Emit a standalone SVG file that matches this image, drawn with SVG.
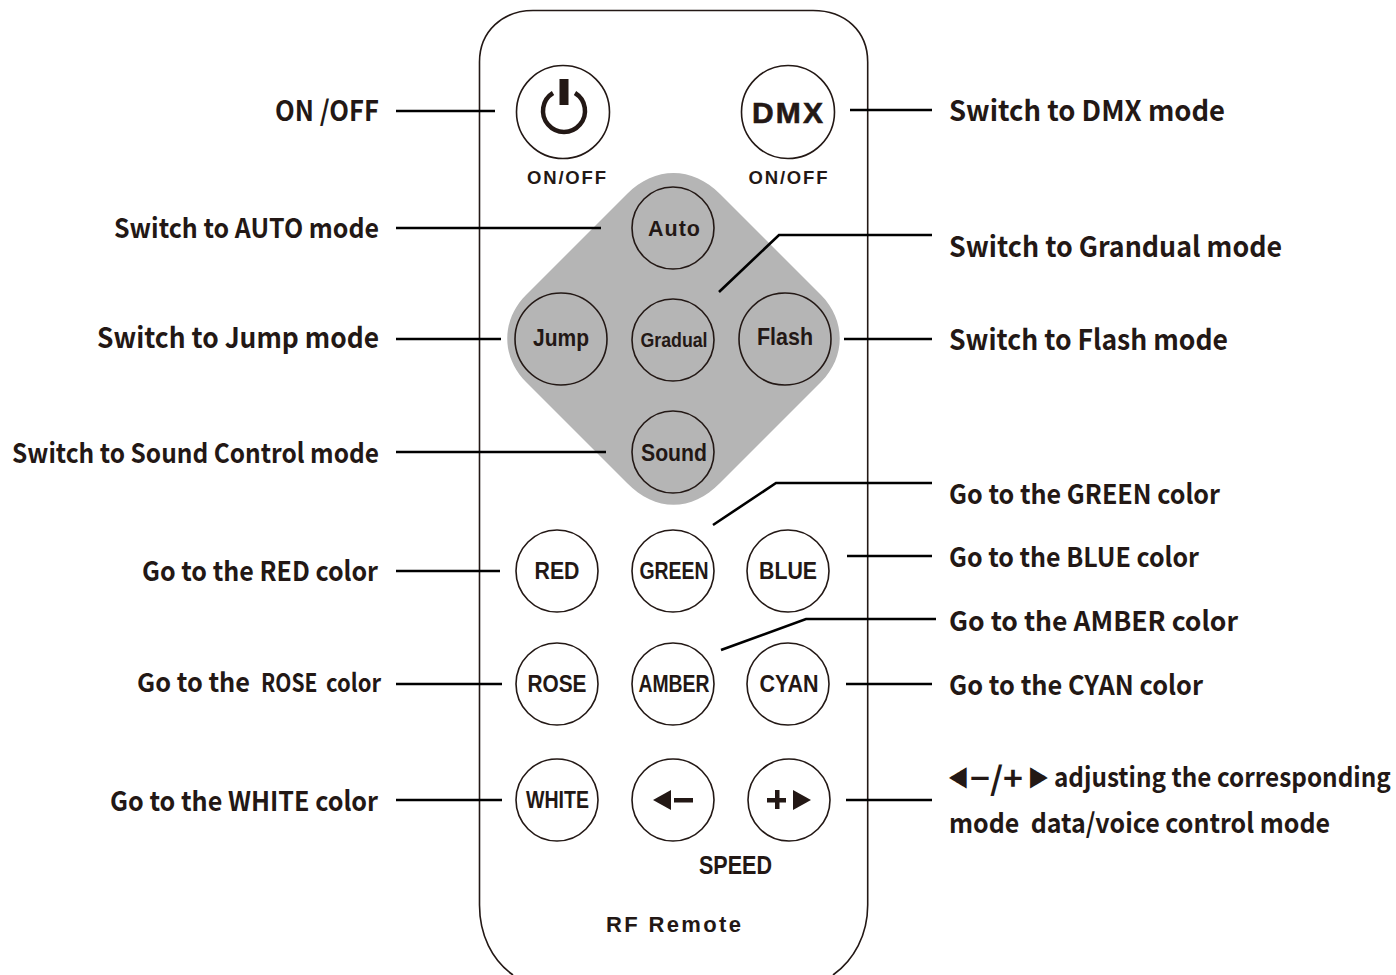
<svg xmlns="http://www.w3.org/2000/svg" width="1396" height="975" viewBox="0 0 1396 975">
<style>
.btn{fill:none;stroke:#231815;stroke-width:1.6}
.lead{fill:none;stroke:#000;stroke-width:2.6}
.k{fill:#231815}
.lab{font-family:"Noto Sans CJK SC","Noto Sans",sans-serif;font-weight:700;font-size:28px;fill:#231815;white-space:pre}
.lab2{font-family:"Noto Sans CJK SC","Noto Sans",sans-serif;font-weight:700;font-size:27px;fill:#231815;white-space:pre}
.tri{font-family:"DejaVu Sans",sans-serif;font-size:23px;fill:#231815}
.t{font-family:"Liberation Sans",sans-serif;font-weight:700;fill:#231815;text-anchor:middle}
</style>
<rect width="1396" height="975" fill="#fff"/>
<g id="remote-body"><path d="M513 975C492 960 479.500 935 479.500 905V62C479.500 31 503 10.500 533 10.500H813C845 10.500 867.700 31 867.700 62V905C867.700 935 854 960 833 975" fill="none" stroke="#231815" stroke-width="1.6"/></g>
<g id="pad"><path d="M627 194C655 166 692 166 720 194L821 295C846 320 846 357 821 382L720 483C692 512 655 512 627 483L526 382C501 357 501 320 526 295Z" fill="#b5b5b5"/></g>
<g id="connectors">
<path class="lead" d="M396 111H495"/>
<path class="lead" d="M850 110H932"/>
<path class="lead" d="M396 228H601"/>
<path class="lead" d="M719 292L779 235H932"/>
<path class="lead" d="M396 339H501"/>
<path class="lead" d="M844 339H932"/>
<path class="lead" d="M396 452H606"/>
<path class="lead" d="M713 525L776 483H932"/>
<path class="lead" d="M396 571H500"/>
<path class="lead" d="M847 556H932"/>
<path class="lead" d="M721 650L806 619H936"/>
<path class="lead" d="M396 684H502"/>
<path class="lead" d="M846 684H932"/>
<path class="lead" d="M396 800H502"/>
<path class="lead" d="M846 800H932"/>
</g>
<g id="btn-power"><circle class="btn" cx="563" cy="112" r="46.500"/><path d="M553 93A21 21 0 1 0 575 93" fill="none" stroke="#231815" stroke-width="4.500"/><rect class="k" x="559.500" y="79" width="9" height="26"/><text class="t" x="566.500" y="184" font-size="18.500" textLength="79" lengthAdjust="spacing">ON/OFF</text></g>
<g id="btn-dmx"><circle class="btn" cx="788" cy="112" r="46.500"/><text class="t" x="787.500" y="123" font-size="30" textLength="71" lengthAdjust="spacing" stroke="#231815" stroke-width=".6">DMX</text><text class="t" x="788" y="184" font-size="18.500" textLength="79" lengthAdjust="spacing">ON/OFF</text></g>
<g id="btn-auto"><circle class="btn" cx="673" cy="228" r="41"/><text class="t" x="674" y="236" font-size="21.500" textLength="52" lengthAdjust="spacing">Auto</text></g>
<g id="btn-jump"><circle class="btn" cx="561" cy="339" r="46"/><text class="t" x="561" y="346" font-size="24" textLength="56" lengthAdjust="spacingAndGlyphs">Jump</text></g>
<g id="btn-gradual"><circle class="btn" cx="673" cy="340" r="41"/><text class="t" x="674" y="347" font-size="21" textLength="67" lengthAdjust="spacingAndGlyphs">Gradual</text></g>
<g id="btn-flash"><circle class="btn" cx="785" cy="339" r="46"/><text class="t" x="785" y="345" font-size="24" textLength="56" lengthAdjust="spacingAndGlyphs">Flash</text></g>
<g id="btn-sound"><circle class="btn" cx="673" cy="452" r="41"/><text class="t" x="674" y="461" font-size="24" textLength="66" lengthAdjust="spacingAndGlyphs">Sound</text></g>
<g id="btn-red"><circle class="btn" cx="557" cy="571" r="41"/><text class="t" x="557" y="579" font-size="24" textLength="45" lengthAdjust="spacingAndGlyphs">RED</text></g>
<g id="btn-green"><circle class="btn" cx="673" cy="571" r="41"/><text class="t" x="674" y="579" font-size="24" textLength="69" lengthAdjust="spacingAndGlyphs">GREEN</text></g>
<g id="btn-blue"><circle class="btn" cx="788" cy="571" r="41"/><text class="t" x="788" y="579" font-size="24" textLength="58" lengthAdjust="spacingAndGlyphs">BLUE</text></g>
<g id="btn-rose"><circle class="btn" cx="557" cy="684" r="41"/><text class="t" x="557" y="692" font-size="24" textLength="59" lengthAdjust="spacingAndGlyphs">ROSE</text></g>
<g id="btn-amber"><circle class="btn" cx="673" cy="684" r="41"/><text class="t" x="674" y="692" font-size="24" textLength="71" lengthAdjust="spacingAndGlyphs">AMBER</text></g>
<g id="btn-cyan"><circle class="btn" cx="788" cy="684" r="41"/><text class="t" x="789" y="692" font-size="24" textLength="59" lengthAdjust="spacingAndGlyphs">CYAN</text></g>
<g id="btn-white"><circle class="btn" cx="557" cy="800" r="41"/><text class="t" x="557.500" y="808" font-size="23" textLength="63" lengthAdjust="spacingAndGlyphs">WHITE</text></g>
<g id="btn-minus"><circle class="btn" cx="673" cy="800" r="41"/><path class="k" d="M653 800L671 790V810Z"/><rect class="k" x="674" y="798" width="19" height="4.500"/></g>
<g id="btn-plus"><circle class="btn" cx="789" cy="800" r="41"/><path class="k" d="M793 790L811 800L793 810Z"/><path class="k" d="M767 798H775V790H779.500V798H786V802.500H779.500V809H775V802.500H767Z"/></g>
<g id="captions"><text class="t" x="735.500" y="874" font-size="25" textLength="73" lengthAdjust="spacingAndGlyphs">SPEED</text><text class="t" x="673.500" y="932" font-size="22" textLength="135" lengthAdjust="spacing">RF Remote</text></g>
<g id="labels-left">
<text class="lab" x="275" y="121" textLength="104" lengthAdjust="spacingAndGlyphs">ON /OFF</text>
<text class="lab2" x="114" y="238" textLength="265" lengthAdjust="spacingAndGlyphs">Switch to AUTO mode</text>
<text class="lab" x="97" y="348" textLength="282" lengthAdjust="spacingAndGlyphs">Switch to Jump mode</text>
<text class="lab2" x="12" y="463" textLength="367" lengthAdjust="spacingAndGlyphs">Switch to Sound Control mode</text>
<text class="lab2" x="142" y="581" textLength="236" lengthAdjust="spacingAndGlyphs">Go to the RED color</text>
<text class="lab2" x="137" y="692" textLength="113" lengthAdjust="spacingAndGlyphs" style="font-size:26px">Go to the</text>
<text class="lab2" transform="translate(261 692) scale(.84 1)" style="font-size:25px">ROSE</text>
<text class="lab2" x="326" y="692" textLength="55" lengthAdjust="spacingAndGlyphs" style="font-size:25px">color</text>
<text class="lab2" x="110" y="811" textLength="268" lengthAdjust="spacingAndGlyphs">Go to the WHITE color</text>
</g>
<g id="labels-right">
<text class="lab" x="949" y="121" textLength="276" lengthAdjust="spacingAndGlyphs">Switch to DMX mode</text>
<text class="lab" x="949" y="257" textLength="333" lengthAdjust="spacingAndGlyphs">Switch to Grandual mode</text>
<text class="lab" x="949" y="350" textLength="279" lengthAdjust="spacingAndGlyphs">Switch to Flash mode</text>
<text class="lab2" x="949" y="504" textLength="271" lengthAdjust="spacingAndGlyphs">Go to the GREEN color</text>
<text class="lab2" x="949" y="567" textLength="250" lengthAdjust="spacingAndGlyphs">Go to the BLUE color</text>
<text class="lab2" x="949" y="631" textLength="289" lengthAdjust="spacingAndGlyphs">Go to the AMBER color</text>
<text class="lab2" x="949" y="695" textLength="254" lengthAdjust="spacingAndGlyphs">Go to the CYAN color</text>
<text class="tri" transform="translate(949 789) scale(1 1.850)">◄</text>
<text class="lab2" x="970" y="790" textLength="53" lengthAdjust="spacingAndGlyphs" style="font-size:32px">−/+</text>
<text class="tri" transform="translate(1030 789) scale(1 1.850)">►</text>
<text class="lab2" transform="translate(1054 787) scale(.9 1)">adjusting the corresponding</text>
<text class="lab2" x="949" y="833" textLength="381" lengthAdjust="spacingAndGlyphs">mode  data/voice control mode</text>
</g>
</svg>
